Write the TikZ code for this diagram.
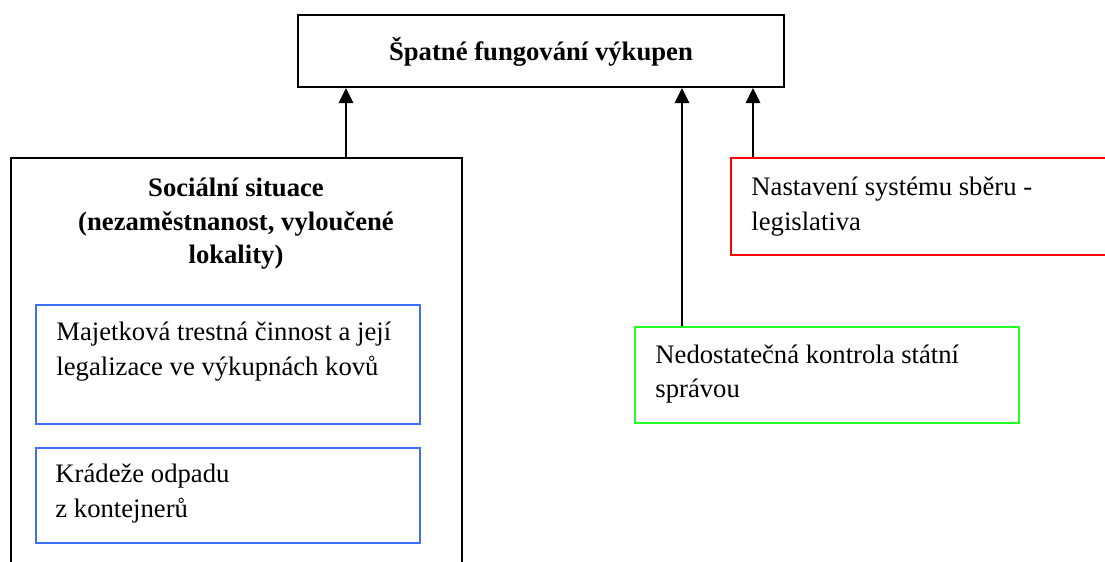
\documentclass[tikz,border=0pt]{standalone}
\usepackage{fontspec}
\setmainfont{Liberation Serif}
\usetikzlibrary{arrows.meta}
\definecolor{boxblue}{HTML}{3F6FFF}
\definecolor{boxred}{HTML}{FF0000}
\definecolor{boxgreen}{HTML}{22FF22}
\tikzset{
  blackbox/.style={draw=black, line width=0.9pt},
  bluebox/.style={draw=boxblue, line width=0.8pt},
  redbox/.style={draw=boxred, line width=0.8pt},
  greenbox/.style={draw=boxgreen, line width=0.8pt},
  txt/.style={anchor=base west, inner sep=0pt, font=\fontsize{12pt}{14pt}\selectfont},
  btxt/.style={anchor=base, inner sep=0pt, font=\fontsize{12pt}{14pt}\selectfont\bfseries},
  conn/.style={line width=0.9pt, -{Triangle[width=6.5pt,length=6.8pt]}}
}
\begin{document}
\begin{tikzpicture}[x=0.45pt,y=-0.45pt]
\useasboundingbox (0,0) rectangle (1105,561);
% boxes
\node[blackbox, minimum width=486*0.45pt, minimum height=72*0.45pt, inner sep=0pt] (top) at (541,51) {};
\node[blackbox, minimum width=451*0.45pt, minimum height=460*0.45pt, inner sep=0pt, anchor=north west] (soc) at (10,157) {};
\node[bluebox, minimum width=384*0.45pt, minimum height=119*0.45pt, inner sep=0pt, anchor=north west] (maj) at (35,304) {};
\node[bluebox, minimum width=384*0.45pt, minimum height=95*0.45pt, inner sep=0pt, anchor=north west] (kra) at (35,447) {};
\node[redbox, minimum width=400*0.45pt, minimum height=97*0.45pt, inner sep=0pt, anchor=north west] (nas) at (730,157) {};
\node[greenbox, minimum width=384*0.45pt, minimum height=96*0.45pt, inner sep=0pt, anchor=north west] (ned) at (634,326) {};
% texts
\node[btxt] (ttop) at (541,60) {Špatné fungování výkupen};
\node[btxt] (tsoc1) at (236,196) {Sociální situace};
\node[btxt] (tsoc2) at (236,230) {(nezaměstnanost, vyloučené};
\node[btxt] (tsoc3) at (236,263) {lokality)};
\node[txt] (tmaj1) at (56,340) {Majetková trestná činnost a její};
\node[txt] (tmaj2) at (56,375) {legalizace ve výkupnách kovů};
\node[txt] (tkra1) at (55,482) {Krádeže odpadu};
\node[txt] (tkra2) at (55,517) {z kontejnerů};
\node[txt] (tnas1) at (751,195) {Nastavení systému sběru -};
\node[txt] (tnas2) at (751,230) {legislativa};
\node[txt] (tned1) at (655,363) {Nedostatečná kontrola státní};
\node[txt] (tned2) at (655,397) {správou};
% connectors
\draw[conn] (soc.north -| 346,0) -- (top.south -| 346,0);
\draw[conn] (ned.north -| 682,0) -- (top.south -| 682,0);
\draw[conn] (nas.north -| 753,0) -- (top.south -| 753,0);
\end{tikzpicture}
\end{document}
